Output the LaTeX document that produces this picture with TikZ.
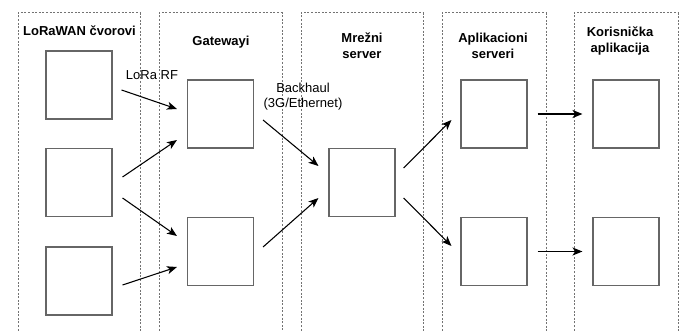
\documentclass[tikz,border=0pt]{standalone}
\usepackage{fontspec}
\setmainfont{Liberation Sans}
\usetikzlibrary{arrows.meta}
\definecolor{boxgray}{rgb}{0.4, 0.4, 0.4}
\definecolor{lanegray}{rgb}{0.45, 0.45, 0.45}
\tikzset{box/.style = {draw=boxgray, line width=0.8pt, minimum width=49.5pt,
                       minimum height=51pt, inner sep=0}}
\tikzset{lane/.style = {draw=lanegray, line width=0.75pt, dash pattern=on 1.5pt off 1.2pt}}
\tikzset{title/.style = {font=\fontsize{9.75}{12}\selectfont\bfseries, align=center,
                         anchor=base, inner sep=0}}
\tikzset{lbl/.style = {font=\fontsize{9.75}{11.5}\selectfont, align=center,
                       anchor=base, inner sep=0}}
\tikzset{flow/.style = {-{Stealth[length=7.5pt, width=6pt, inset=2pt]}, line width=0.8pt}}

\begin{document}
\begin{tikzpicture}[x=0.75pt, y=-0.75pt]
    \useasboundingbox (0, 0) rectangle (684, 331);

    % columns
    \draw [lane] (18, 345) rectangle (140, 13);
    \draw [lane] (159, 345) rectangle (282, 13);
    \draw [lane] (301, 345) rectangle (423, 13);
    \draw [lane] (442, 345) rectangle (546, 13);
    \draw [lane] (574, 345) rectangle (678, 13);

    \node [title] (tcvor) at (79.5, 36) {LoRaWAN čvorovi};
    \node [title] (tgw) at (221, 46) {Gatewayi};
    \node [title] (tns) at (362, 59) {Mrežni\\server};
    \node [title] (tas) at (493, 59) {Aplikacioni\\serveri};
    \node [title] (tapp) at (620, 53) {Korisnička\\aplikacija};

    % boxes
    \node [box] (cvor1) at (79, 85) {};
    \node [box] (cvor2) at (79, 182.5) {};
    \node [box] (cvor3) at (79, 281) {};
    \node [box] (gw1) at (220.5, 114) {};
    \node [box] (gw2) at (220.5, 251.5) {};
    \node [box] (ns) at (362, 182.5) {};
    \node [box] (as1) at (494, 114) {};
    \node [box] (as2) at (494, 251.5) {};
    \node [box] (app1) at (626, 114) {};
    \node [box] (app2) at (626, 251.5) {};

    \node [lbl] (lora) at (152, 80) {LoRa RF};
    \node [lbl] (backhaul) at (303, 108) {Backhaul\\(3G/Ethernet)};

    % links
    \draw [flow] ([shift={(9, 5)}]cvor1.east) -- ([shift={(-10, -5)}]gw1.west);
    \draw [flow] ([shift={(10, -5.5)}]cvor2.east) -- ([shift={(-10, 26)}]gw1.west);
    \draw [flow] ([shift={(10, 15.5)}]cvor2.east) -- ([shift={(-10, -15.5)}]gw2.west);
    \draw [flow] ([shift={(10, 4)}]cvor3.east) -- ([shift={(-10, 15.5)}]gw2.west);
    \draw [flow] ([shift={(9, 6)}]gw1.east) -- ([shift={(-10, -16.5)}]ns.west);
    \draw [flow] ([shift={(9, -4.5)}]gw2.east) -- ([shift={(-10, 15.5)}]ns.west);
    \draw [flow] ([shift={(8, -14.5)}]ns.east) -- ([shift={(-9, 6)}]as1.west);
    \draw [flow] ([shift={(8, 15.5)}]ns.east) -- ([shift={(-9, -5.5)}]as2.west);
    \draw [flow] ([shift={(10, 0)}]as1.east) -- ([shift={(-10, 0)}]app1.west);
    \draw [flow] ([shift={(10, 0)}]as2.east) -- ([shift={(-10, 0)}]app2.west);
\end{tikzpicture}
\end{document}
